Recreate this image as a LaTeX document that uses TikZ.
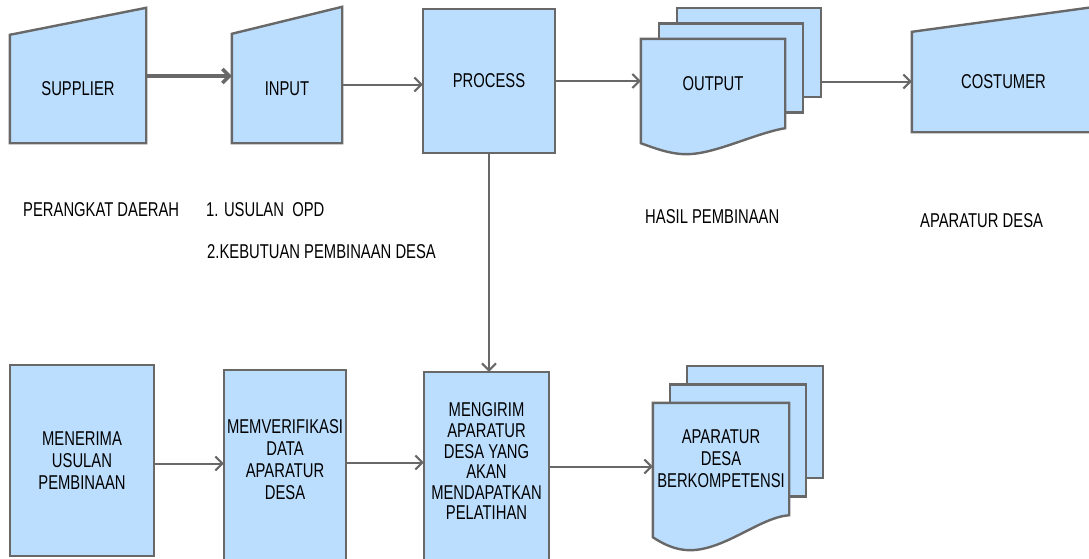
\documentclass[tikz,border=0pt]{standalone}
\usepackage{fontspec}
\setmainfont[FakeStretch=0.74]{Liberation Sans}
\usetikzlibrary{arrows.meta,calc,backgrounds}

\definecolor{boxfill}{RGB}{187,222,255}
\definecolor{boxline}{RGB}{104,104,104}

\begin{document}
\begin{tikzpicture}[x=1pt,y=-1pt,
  shp/.style={draw=boxline, fill=boxfill, line width=2.4pt},
  txt/.style={font=\fontsize{20}{22}\selectfont, align=center, inner sep=0pt},
  lbl/.style={font=\fontsize{20}{22}\selectfont, anchor=west, inner sep=0pt},
  arr/.style={draw=boxline, line width=2pt, -{Straight Barb[length=7pt,width=14pt]}}]
\useasboundingbox (0,0) rectangle (1089,558);
\clip (0,0) rectangle (1089,558);
% Top row
\node[txt, minimum width=136pt, minimum height=108pt] (supplier) at (78,89) {SUPPLIER};
\node[txt, minimum width=110pt, minimum height=109pt] (input) at (287,88.5) {INPUT};
\node[txt, minimum width=132pt, minimum height=144pt] (process) at (489,81) {PROCESS};
\node[txt, minimum width=144pt, minimum height=89pt] (output) at (713,83.5) {OUTPUT};
\node[txt, minimum width=183pt, minimum height=100pt] (costumer) at (1003.5,82) {COSTUMER};
\coordinate (outback) at ($(output.east)+(36,-2)$);
% Labels under the top row
\node[lbl] (perangkat) at (23,210) {PERANGKAT DAERAH};
\node[lbl] (usulan) at (206,210) {1. USULAN\ \ OPD};
\node[lbl] (kebutuhan) at (207,252) {2.KEBUTUAN PEMBINAAN DESA};
\node[lbl] (hasil) at (645,217) {HASIL PEMBINAAN};
\node[lbl] (apdesa) at (920,221) {APARATUR DESA};
% Bottom row
\node[txt, minimum width=144pt, minimum height=191pt] (menerima) at (82,460.5) {MENERIMA\\USULAN\\PEMBINAAN};
\node[txt, minimum width=122pt, minimum height=179pt] (memverif) at (285,459.5) {MEMVERIFIKASI\\DATA\\APARATUR\\DESA};
\node[txt, font=\fontsize{20}{20.6}\selectfont, minimum width=125pt, minimum height=179pt] (mengirim) at (486.5,461.5)
  {MENGIRIM\\APARATUR\\DESA YANG\\AKAN\\MENDAPATKAN\\PELATIHAN};
\node[txt, minimum width=136pt, minimum height=112pt] (kompeten) at (721,459) {APARATUR\\DESA\\BERKOMPETENSI};
% Shapes behind the texts
\begin{scope}[on background layer]
  \draw[shp] (supplier.south west) -- (supplier.north west) -- ($(supplier.north east)+(0,-27)$) -- (supplier.south east) -- cycle;
  \draw[shp] (input.south west) -- (input.north west) -- ($(input.north east)+(0,-27)$) -- (input.south east) -- cycle;
  \draw[shp] (process.north west) rectangle (process.south east);
  \foreach \k in {2,1}
    \draw[shp] ($(output.north west)+(18*\k,-15.5*\k)$) rectangle +(144,89);
  \draw[shp] (output.north west) -- (output.north east) -- (output.south east)
    .. controls +(-30,5) and +(28,0) .. ($(output.south west)+(46,26)$)
    .. controls +(-17,0) and +(14,5) .. ($(output.south west)+(0,15)$) -- cycle;
  \draw[shp] (costumer.south west) -- (costumer.north west) -- ($(costumer.north east)+(0,-25)$) -- (costumer.south east) -- cycle;
  \draw[shp] (menerima.north west) rectangle (menerima.south east);
  \draw[shp] (memverif.north west) rectangle ($(memverif.south east)+(0,30)$);
  \draw[shp] (mengirim.north west) rectangle ($(mengirim.south east)+(0,30)$);
  \foreach \k in {2,1}
    \draw[shp] ($(kompeten.north west)+(17*\k,-18.5*\k)$) rectangle +(136,112);
  \draw[shp] (kompeten.north west) -- (kompeten.north east) -- (kompeten.south east)
    .. controls +(-29,2) and +(35,0) .. ($(kompeten.south west)+(37,35)$)
    .. controls +(-15,0) and +(9,6) .. ($(kompeten.south west)+(0,22)$) -- cycle;
\end{scope}
% Connectors
\draw[arr, line width=3.5pt] ([yshift=13pt]supplier.east) -- ([yshift=13pt]supplier.east -| input.west);
\draw[arr] ([yshift=4pt]input.east) -- ([yshift=4pt]input.east -| process.west);
\draw[arr] (process.east) -- (process.east -| output.west);
\draw[arr] (outback) -- (outback -| costumer.west);
\draw[arr] (process.south) -- (process.south |- mengirim.north);
\draw[arr] ([yshift=-3pt]menerima.east) -- ([yshift=-3pt]menerima.east -| memverif.west);
\draw[arr] ([yshift=-3pt]memverif.east) -- ([yshift=-3pt]memverif.east -| mengirim.west);
\draw[arr] ([yshift=-5pt]mengirim.east) -- ([yshift=-5pt]mengirim.east -| kompeten.west);
\end{tikzpicture}
\end{document}
